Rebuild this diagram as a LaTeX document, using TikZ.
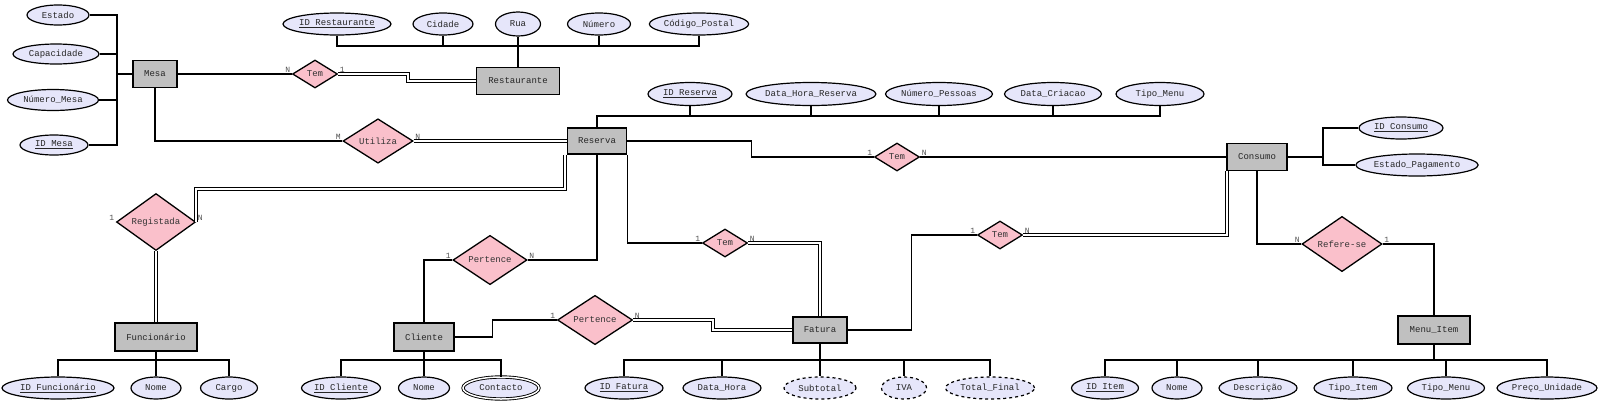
\documentclass[tikz,border=0pt]{standalone}
\usepackage{fontspec}
\setmainfont{Liberation Mono}
\usetikzlibrary{shapes.geometric}
\definecolor{entgray}{RGB}{192,192,192}
\definecolor{relpink}{RGB}{250,192,203}
\definecolor{attrlav}{RGB}{230,230,250}
\definecolor{cardgray}{RGB}{80,80,80}

\begin{document}
\begin{tikzpicture}[x=1pt, y=-1pt, line width=1.2pt,
    entity/.style={draw, line width=1.6pt, fill=entgray, minimum height=27pt, inner sep=0pt, text=black!85, font=\fontsize{9}{10}\selectfont},
    rel/.style={draw, diamond, line width=1.3pt, fill=relpink, inner sep=0pt, text=black!80, font=\fontsize{9}{10}\selectfont},
    attr/.style={draw, ellipse, line width=1.2pt, fill=attrlav, minimum height=22pt, inner sep=0pt, text=black!85, font=\fontsize{9}{10}\selectfont},
    dbl/.style={double, double distance=2pt, line width=0.9pt},
    card/.style={inner sep=1pt, text=cardgray, font=\fontsize{8}{9}\selectfont}]
    \useasboundingbox (0,0) rectangle (1600,405);

    % entidades
    \node[entity, minimum width=44pt] (mesa) at (155,74) {Mesa};
    \node[entity, minimum width=83pt] (restaurante) at (518,81) {Restaurante};
    \node[entity, minimum width=59pt, minimum height=26pt] (reserva) at (597,141) {Reserva};
    \node[entity, minimum width=60pt] (consumo) at (1257,157) {Consumo};
    \node[entity, minimum width=82pt, minimum height=28pt] (funcionario) at (156,337) {Funcionário};
    \node[entity, minimum width=60pt, minimum height=28pt] (cliente) at (424,337) {Cliente};
    \node[entity, minimum width=54pt, minimum height=26pt] (fatura) at (820,330) {Fatura};
    \node[entity, minimum width=72pt, minimum height=28pt] (menuitem) at (1434,330) {Menu\_Item};

    % relacoes
    \node[rel, minimum width=45pt, minimum height=28pt] (tem1) at (315,74) {Tem};
    \node[rel, minimum width=70pt, minimum height=42pt] (utiliza) at (378,141) {Utiliza};
    \node[rel, minimum width=45pt, minimum height=28pt] (tem2) at (897,157) {Tem};
    \node[rel, minimum width=79pt, minimum height=50pt] (registada) at (156,222) {Registada};
    \node[rel, minimum width=74pt, minimum height=48pt] (pertence1) at (490,260) {Pertence};
    \node[rel, minimum width=45pt, minimum height=28pt] (tem3) at (725,243) {Tem};
    \node[rel, minimum width=45pt, minimum height=28pt] (tem4) at (1000,235) {Tem};
    \node[rel, minimum width=75pt, minimum height=45pt] (pertence2) at (595,320) {Pertence};
    \node[rel, minimum width=80pt, minimum height=50pt] (referese) at (1342,244) {Refere-se};

    % atributos de Mesa
    \node[attr, minimum width=62pt, minimum height=20pt] (estado) at (58,15) {Estado};
    \node[attr, minimum width=86pt, minimum height=20pt] (capacidade) at (56,54) {Capacidade};
    \node[attr, minimum width=91pt, minimum height=21pt] (numeromesa) at (53,100) {Número\_Mesa};
    \node[attr, minimum width=68pt, minimum height=20pt] (idmesa) at (54,145) {\underline{ID Mesa}};
    \coordinate (mesabus) at (117,74);
    \draw (mesa.west) -- (mesabus);
    \draw (estado.east) -| (mesabus) |- (idmesa.east);
    \draw (capacidade.east) -- (capacidade.east -| mesabus);
    \draw (numeromesa.east) -- (numeromesa.east -| mesabus);

    % atributos de Restaurante
    \node[attr, minimum width=108pt] (idrest) at (337,24) {\underline{ID Restaurante}};
    \node[attr, minimum width=60pt] (cidade) at (443,24) {Cidade};
    \node[attr, minimum width=45pt, minimum height=24pt] (rua) at (518,24) {Rua};
    \node[attr, minimum width=63pt] (numero) at (599,24) {Número};
    \node[attr, minimum width=96pt] (codpostal) at (699,24) {Código\_Postal};
    \coordinate (restbus) at (518,46);
    \draw (idrest.south) |- (restbus) -| (codpostal.south);
    \draw (restaurante.north) -- (rua.south);
    \draw (cidade.south) -- (cidade.south |- restbus);
    \draw (numero.south) -- (numero.south |- restbus);

    % atributos de Reserva
    \node[attr, minimum width=84pt, minimum height=23pt] (idreserva) at (690,94) {\underline{ID Reserva}};
    \node[attr, minimum width=123pt, minimum height=23pt] (datahorares) at (811,94) {Data\_Hora\_Reserva};
    \node[attr, minimum width=107pt, minimum height=23pt] (numpessoas) at (939,94) {Número\_Pessoas};
    \node[attr, minimum width=97pt, minimum height=23pt] (datacriacao) at (1053,94) {Data\_Criacao};
    \node[attr, minimum width=88pt, minimum height=23pt] (tipomenures) at (1160,94) {Tipo\_Menu};
    \coordinate (resbus) at (597,116);
    \draw (reserva.north) -- (resbus) -| (tipomenures.south);
    \draw (idreserva.south) -- (idreserva.south |- resbus);
    \draw (datahorares.south) -- (datahorares.south |- resbus);
    \draw (numpessoas.south) -- (numpessoas.south |- resbus);
    \draw (datacriacao.south) -- (datacriacao.south |- resbus);

    % atributos de Consumo
    \node[attr, minimum width=84pt] (idconsumo) at (1401,128) {\underline{ID Consumo}};
    \node[attr, minimum width=117pt] (estadopag) at (1417,165) {Estado\_Pagamento};
    \coordinate (consbus) at (1323,157);
    \draw (consumo.east) -- (consbus);
    \draw (idconsumo.west) -| (consbus) |- (estadopag.west);

    % atributos de Funcionario
    \node[attr, minimum width=112pt] (idfunc) at (58,388) {\underline{ID Funcionário}};
    \node[attr, minimum width=50pt] (nomefunc) at (156,388) {Nome};
    \node[attr, minimum width=57pt] (cargo) at (229,388) {Cargo};
    \coordinate (funcbus) at (156,360);
    \draw (idfunc.north) |- (funcbus) -| (cargo.north);
    \draw (funcionario.south) -- (nomefunc.north);

    % atributos de Cliente
    \node[attr, minimum width=79pt] (idcliente) at (341,388) {\underline{ID Cliente}};
    \node[attr, minimum width=51pt] (nomecli) at (424,388) {Nome};
    \node[attr, minimum width=76pt, double, double distance=1.5pt, line width=0.9pt] (contacto) at (501,388) {Contacto};
    \coordinate (clibus) at (424,360);
    \draw (idcliente.north) |- (clibus) -| (contacto.north);
    \draw (cliente.south) -- (nomecli.north);

    % atributos de Fatura
    \node[attr, minimum width=78pt] (idfatura) at (624,388) {\underline{ID Fatura}};
    \node[attr, minimum width=78pt] (datahora) at (722,388) {Data\_Hora};
    \node[attr, dashed, minimum width=72pt] (subtotal) at (820,388) {Subtotal};
    \node[attr, dashed, minimum width=45pt] (iva) at (904,388) {IVA};
    \node[attr, dashed, minimum width=89pt] (totalfinal) at (990,388) {Total\_Final};
    \coordinate (fatbus) at (820,360);
    \draw (idfatura.north) |- (fatbus) -| (totalfinal.north);
    \draw (fatura.south) -- (fatbus) -- (subtotal.north);
    \draw (datahora.north) -- (datahora.north |- fatbus);
    \draw (iva.north) -- (iva.north |- fatbus);

    % atributos de Menu_Item
    \node[attr, minimum width=67pt] (iditem) at (1105,388) {\underline{ID Item}};
    \node[attr, minimum width=50pt] (nomeitem) at (1177,388) {Nome};
    \node[attr, minimum width=78pt] (descricao) at (1258,388) {Descrição};
    \node[attr, minimum width=78pt] (tipoitem) at (1353,388) {Tipo\_Item};
    \node[attr, minimum width=77pt] (tipomenu) at (1446,388) {Tipo\_Menu};
    \node[attr, minimum width=100pt] (precounidade) at (1547,388) {Preço\_Unidade};
    \coordinate (itembus) at (1434,360);
    \draw (iditem.north) |- (itembus) -| (precounidade.north);
    \draw (menuitem.south) -- (itembus);
    \draw (nomeitem.north) -- (nomeitem.north |- itembus);
    \draw (descricao.north) -- (descricao.north |- itembus);
    \draw (tipoitem.north) -- (tipoitem.north |- itembus);
    \draw (tipomenu.north) -- (tipomenu.north |- itembus);

    % ligacoes
    \draw (mesa.east) -- (tem1.west);
    \draw[dbl] (tem1.east) -- ++(70,0) |- (restaurante.west);
    \draw (mesa.south) |- (utiliza.west);
    \draw[dbl] (utiliza.east) -- (reserva.west);
    \draw (reserva.east) -- ++(124,0) |- (tem2.west);
    \draw (tem2.east) -- (consumo.west);
    \coordinate (regcorner) at (565,189);
    \draw[dbl] (registada.east) |- (regcorner) -- (regcorner |- reserva.south);
    \draw[dbl] (registada.south) -- (funcionario.north);
    \draw (reserva.south) |- (pertence1.east);
    \draw (pertence1.west) -| (cliente.north);
    \draw (reserva.south east) |- (tem3.west);
    \draw[dbl] (tem3.east) -| (fatura.north);
    \draw (cliente.east) -- ++(38,0) |- (pertence2.west);
    \draw[dbl] (pertence2.east) -- ++(80,0) |- (fatura.west);
    \draw (fatura.east) -- ++(64,0) |- (tem4.west);
    \draw[dbl] (tem4.east) -| ([xshift=1pt]consumo.south west);
    \draw (consumo.south) |- (referese.west);
    \draw (referese.east) -| (menuitem.north);

    % cardinalidades
    \node[card, above left] (c1) at (tem1.west) {N};
    \node[card, above right] (c2) at (tem1.east) {1};
    \node[card, above left] (c3) at (utiliza.west) {M};
    \node[card, above right] (c4) at (utiliza.east) {N};
    \node[card, above left] (c5) at (tem2.west) {1};
    \node[card, above right] (c6) at (tem2.east) {N};
    \node[card, above left] (c7) at (registada.west) {1};
    \node[card, above right] (c8) at (registada.east) {N};
    \node[card, above left] (c9) at (pertence1.west) {1};
    \node[card, above right] (c10) at (pertence1.east) {N};
    \node[card, above left] (c11) at (tem3.west) {1};
    \node[card, above right] (c12) at (tem3.east) {N};
    \node[card, above left] (c13) at (tem4.west) {1};
    \node[card, above right] (c14) at (tem4.east) {N};
    \node[card, above left] (c15) at (pertence2.west) {1};
    \node[card, above right] (c16) at (pertence2.east) {N};
    \node[card, above left] (c17) at (referese.west) {N};
    \node[card, above right] (c18) at (referese.east) {1};
\end{tikzpicture}
\end{document}
